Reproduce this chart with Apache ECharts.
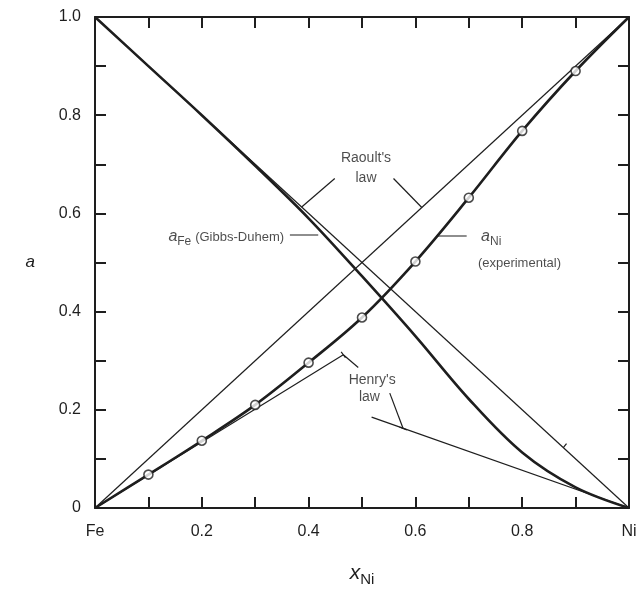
<!DOCTYPE html>
<html><head><meta charset="utf-8">
<script src="https://cdn.jsdelivr.net/npm/echarts@6/dist/echarts.min.js"></script>
<style>html,body{margin:0;padding:0;background:#fff}#c{width:642px;height:594px}</style>
</head><body><div id="c"></div>
<script>
// ---- data ----
const xTicks = [0, 0.1, 0.2, 0.3, 0.4, 0.5, 0.6, 0.7, 0.8, 0.9, 1.0];
const xTickLabels = {0: 'Fe', 2: '0.2', 4: '0.4', 6: '0.6', 8: '0.8', 10: 'Ni'};
const yTickLabels = {0: '0', 2: '0.2', 4: '0.4', 6: '0.6', 8: '0.8', 10: '1.0'};
const aFeX = [0, 0.1, 0.2, 0.3, 0.4, 0.5, 0.6, 0.7, 0.8, 0.9, 1.0];
const aFeY = [1.0, 0.90, 0.80, 0.697, 0.590, 0.472, 0.350, 0.222, 0.113, 0.042, 0];
const aNiX = [0, 0.1, 0.2, 0.3, 0.4, 0.5, 0.6, 0.7, 0.8, 0.9, 1.0];
const aNiY = [0, 0.068, 0.137, 0.210, 0.296, 0.388, 0.502, 0.632, 0.768, 0.890, 1.0];
const expX = [0.1, 0.2, 0.3, 0.4, 0.5, 0.6, 0.7, 0.8, 0.9];
const expY = [0.068, 0.137, 0.210, 0.296, 0.388, 0.502, 0.632, 0.768, 0.890];
const raoultNi = [[0, 0], [1, 1]];
const raoultFe = [[0, 1], [1, 0]];
const henryNi = [[0, 0], [0.465, 0.312]];
const henryFe = [[0.518, 0.185], [1, 0]];
const leaders = [
  [[0.449, 0.671], [0.387, 0.613]],   // Raoult left
  [[0.559, 0.671], [0.612, 0.612]],   // Raoult right
  [[0.365, 0.556], [0.418, 0.556]],   // aFe
  [[0.640, 0.554], [0.696, 0.554]],   // aNi
  [[0.465, 0.312], [0.493, 0.286]],   // Henry Ni leader
  [[0.461, 0.318], [0.469, 0.306]],   // Henry Ni end cap
  [[0.552, 0.234], [0.577, 0.162]],   // Henry Fe leader
  [[0.570, 0.165], [0.584, 0.159]],   // Henry Fe cap
  [[0.877, 0.123], [0.883, 0.131]]    // small mark on Raoult Fe
];
const textLabels = [
  {pos: [0.5075, 0.713], text: "Raoult's", side: 'inside'},
  {pos: [0.5075, 0.672], text: 'law', side: 'inside'},
  {pos: [0.519, 0.261], text: "Henry's", side: 'inside'},
  {pos: [0.514, 0.225], text: 'law', side: 'inside'},
  {pos: [0.354, 0.552], text: '{i|a}{s|Fe} {g|(Gibbs-Duhem)}', side: 'left'},
  {pos: [0.723, 0.552], text: '{i|a}{s|Ni}', side: 'right'},
  {pos: [0.717, 0.499], text: '{g|(experimental)}', side: 'right'}
];

// ---- chart ----
const FONT = 'Liberation Sans, Arial, sans-serif';
const INK = '#1e1e1e';
const zip = (xs, ys) => xs.map((x, i) => [x, ys[i]]);
const chart = echarts.init(document.getElementById('c'), null, {renderer: 'canvas'});

function axisBase(extra) {
  return Object.assign({
    type: 'value', min: 0, max: 1, interval: 0.1,
    axisLine: {show: true, onZero: false, lineStyle: {color: INK, width: 2}},
    axisTick: {show: true, inside: true, length: 11, lineStyle: {color: INK, width: 2}},
    splitLine: {show: false}
  }, extra);
}
const rich = {
  i: {fontFamily: FONT, fontStyle: 'italic', fontSize: 16, color: INK},
  s: {fontFamily: FONT, fontSize: 12, color: INK, padding: [9, 0, 0, 0]},
  g: {fontFamily: FONT, fontSize: 13, color: INK}
};

const series = [];
const thin = (data) => ({type: 'line', data, symbol: 'none', silent: true,
  lineStyle: {color: INK, width: 1.2}, z: 2});
series.push(thin(raoultNi), thin(raoultFe), thin(henryNi), thin(henryFe));
leaders.forEach(seg => series.push(thin(seg)));
series.push({type: 'line', data: zip(aFeX, aFeY), symbol: 'none', smooth: 0.35,
  lineStyle: {color: INK, width: 2.6}, z: 3});
series.push({type: 'line', data: zip(aNiX, aNiY), symbol: 'none', smooth: 0.35,
  lineStyle: {color: INK, width: 2.6}, z: 3});
series.push({type: 'scatter', data: zip(expX, expY), symbol: 'circle', symbolSize: 9,
  itemStyle: {color: '#fff', borderColor: INK, borderWidth: 1.6}, z: 5});
series.push({type: 'scatter', symbolSize: 0, silent: true, z: 6,
  data: textLabels.map(t => ({value: t.pos, label: {
    show: true, formatter: t.text, position: t.side, distance: 0,
    fontFamily: FONT, fontSize: 14, color: INK, rich
  }}))});

chart.setOption({
  animation: false,
  backgroundColor: '#fff',
  grid: {left: 95, right: 13, top: 17, bottom: 86, containLabel: false},
  xAxis: [
    axisBase({position: 'bottom',
      name: '{i|x}{s|Ni}', nameLocation: 'middle', nameGap: 52,
      nameTextStyle: {rich: {
        i: {fontFamily: FONT, fontStyle: 'italic', fontSize: 21, color: INK},
        s: {fontFamily: FONT, fontSize: 15, color: INK, padding: [12, 0, 0, 0]}}},
      axisLabel: {show: true, margin: 16, fontFamily: FONT, fontSize: 16, color: INK,
        formatter: v => xTickLabels[Math.round(v * 10)] || ''}}),
    axisBase({position: 'top', axisLabel: {show: false}})
  ],
  yAxis: [
    axisBase({position: 'left',
      name: 'a', nameLocation: 'middle', nameGap: 60, nameRotate: 0,
      nameTextStyle: {fontFamily: FONT, fontStyle: 'italic', fontSize: 17, color: INK},
      axisLabel: {show: true, margin: 14, fontFamily: FONT, fontSize: 16, color: INK,
        formatter: v => yTickLabels[Math.round(v * 10)] || ''}}),
    axisBase({position: 'right', axisLabel: {show: false}})
  ],
  series
});
</script></body></html>
